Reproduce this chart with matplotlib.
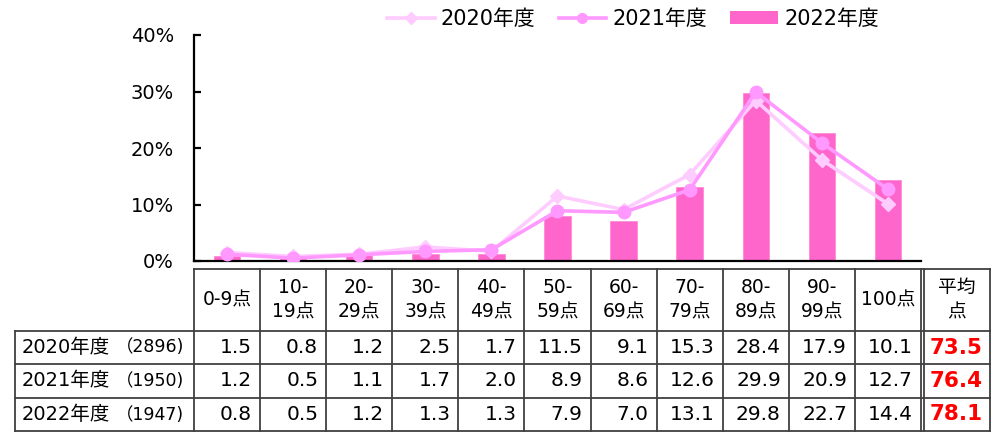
import matplotlib
matplotlib.use('Agg')
import matplotlib.pyplot as plt
from matplotlib.lines import Line2D
from matplotlib.patches import Patch
import numpy as np

plt.rcParams['font.family'] = ['DejaVu Sans', 'Noto Sans CJK JP']

categories = ['0-9点', '10-\n19点', '20-\n29点', '30-\n39点', '40-\n49点', '50-\n59点',
              '60-\n69点', '70-\n79点', '80-\n89点', '90-\n99点', '100点']
years = ['2020年度', '2021年度', '2022年度']
counts = ['（2896)', '（1950)', '（1947)']
v2020 = [1.5, 0.8, 1.2, 2.5, 1.7, 11.5, 9.1, 15.3, 28.4, 17.9, 10.1]
v2021 = [1.2, 0.5, 1.1, 1.7, 2.0, 8.9, 8.6, 12.6, 29.9, 20.9, 12.7]
v2022 = [0.8, 0.5, 1.2, 1.3, 1.3, 7.9, 7.0, 13.1, 29.8, 22.7, 14.4]
averages = [73.5, 76.4, 78.1]
avg_label = '平均\n点'
yticks = [0, 10, 20, 30, 40]

C2020 = '#FFCCFF'
C2021 = '#FF99FF'
C2022 = '#FF66CC'

W, H = 1003, 432
fig = plt.figure(figsize=(W / 100, H / 100), dpi=100)


def fx(px):
    return px / W


def fy(py):
    return 1 - py / H


ax = fig.add_axes([fx(194), fy(261), fx(921) - fx(194), fy(35) - fy(261)])
x = np.arange(len(categories))
ax.bar(x, v2022, width=0.4, color=C2022, edgecolor='#FF8AD8', linewidth=0.6, zorder=2)
ax.plot(x, v2020, color=C2020, lw=2.6, marker='D', ms=7, zorder=3)
ax.plot(x, v2021, color=C2021, lw=2.6, marker='o', ms=9, zorder=4)
ax.set_xlim(-0.5, 10.5)
ax.set_ylim(0, 40)
ax.set_yticks(yticks)
ax.set_yticklabels([f'{t}%' for t in yticks])
ax.set_xticks([])
for s in ['top', 'right']:
    ax.spines[s].set_visible(False)
ax.spines['left'].set_linewidth(1.6)
ax.spines['bottom'].set_linewidth(1.6)
ax.tick_params(axis='y', direction='in', length=5, width=1.6, pad=14.5, labelsize=14)

# legend
handles = [Line2D([], [], color=C2020, lw=2.6, marker='D', ms=6),
           Line2D([], [], color=C2021, lw=2.6, marker='o', ms=7),
           Patch(facecolor=C2022, edgecolor='none')]
fig.legend(handles, years, loc='center', bbox_to_anchor=(fx(633), fy(19)), ncol=3,
           frameon=False, fontsize=15, handlelength=2.3, handletextpad=0.3,
           columnspacing=1.1, handleheight=0.6)

# table
fig.canvas.draw()
edges = [ax.transData.transform((i - 0.5, 0))[0] for i in range(len(categories) + 1)]
avg_l = edges[-1] + 3
avg_r = avg_l + 66
left = 15
y_head_top, y_head_bot = 269, 331
row_lines = [331, 364, 398, 431]
lc = '#404040'
lw = 1.3


def hline(px0, px1, py):
    fig.add_artist(Line2D([fx(px0), fx(px1)], [fy(py), fy(py)], color=lc, lw=lw,
                          transform=fig.transFigure))


def vline(px, py0, py1):
    fig.add_artist(Line2D([fx(px), fx(px)], [fy(py0), fy(py1)], color=lc, lw=lw,
                          transform=fig.transFigure))


hline(edges[0], avg_r, y_head_top)
for r in row_lines:
    hline(left, avg_r, r)
for e in edges:
    vline(e, y_head_top, row_lines[-1])
vline(avg_l, y_head_top, row_lines[-1])
vline(avg_r, y_head_top, row_lines[-1])
vline(left, row_lines[0], row_lines[-1])

head_c = (y_head_top + y_head_bot) / 2
for i, cat in enumerate(categories):
    cx = (edges[i] + edges[i + 1]) / 2
    fig.text(fx(cx), fy(head_c), cat, ha='center', va='center', fontsize=13.5,
             linespacing=1.35)
fig.text(fx((avg_l + avg_r) / 2), fy(head_c), avg_label, ha='center', va='center',
         fontsize=13.5, linespacing=1.35)

series = [v2020, v2021, v2022]
for r in range(3):
    cy = (row_lines[r] + row_lines[r + 1]) / 2
    fig.text(fx(22), fy(cy), years[r], ha='left', va='center', fontsize=14)
    fig.text(fx(184), fy(cy), counts[r], ha='right', va='center', fontsize=12.5)
    for i, v in enumerate(series[r]):
        fig.text(fx(edges[i + 1] - 8), fy(cy), f'{v:.1f}', ha='right', va='center',
                 fontsize=14.5)
    fig.text(fx(avg_r - 7), fy(cy), f'{averages[r]:.1f}', ha='right', va='center',
             fontsize=15.5, fontweight='bold', color='#FF0000')

fig.savefig('out.png', dpi=100)
